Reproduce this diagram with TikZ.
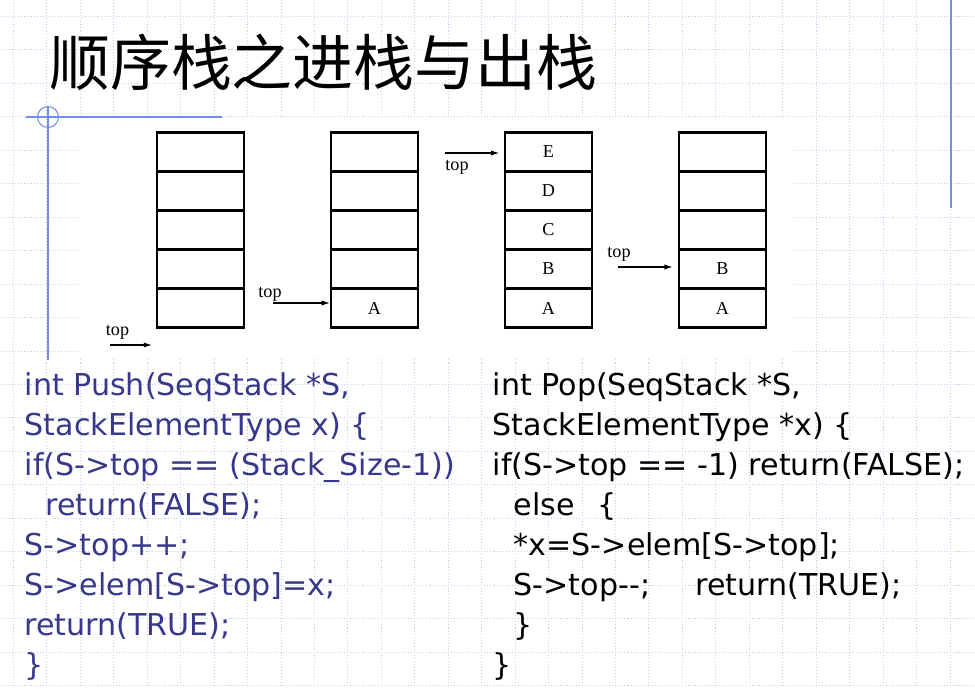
\documentclass[tikz,border=0pt]{standalone}
\usepackage{fontspec}
\usetikzlibrary{arrows.meta}
\newfontfamily\cjk{Noto Sans CJK SC}
\newfontfamily\codefont{DejaVu Sans}
\newfontfamily\figfont{Liberation Serif}
\definecolor{gridblue}{RGB}{198,207,240}
\definecolor{lineblue}{RGB}{115,140,235}
\definecolor{codeblue}{RGB}{55,55,140}

\tikzset{
  gridline/.style={gridblue,line width=0.8pt,dash pattern=on 0.9pt off 1.7pt},
  cell/.style={draw,line width=1.8pt,minimum width=26.1mm,minimum height=11.7mm,inner sep=0pt},
  lab/.style={inner sep=0pt,font=\figfont\fontsize{15.5}{17}\selectfont},
  ptr/.style={line width=1pt,-{Latex[length=7pt,width=4.5pt]}},
  code/.style={anchor=base west,inner sep=0pt,font=\codefont\fontsize{25.7}{30}\selectfont}
}

\begin{document}
\begin{tikzpicture}[x=0.3mm,y=-0.3mm]
    \useasboundingbox[fill=white] (0,0) rectangle (975,688);

    % background grid
    \foreach \k in {0,...,28}
      \draw[gridline] (13.4+33.45*\k,0) -- (13.4+33.45*\k,688);
    \foreach \k in {0,...,20}
      \draw[gridline] (0,16.5+33.45*\k) -- (975,16.5+33.45*\k);

    % picture area
    \fill[white] (78,119) rectangle (793,357);

    % slide marks
    \draw[lineblue,line width=0.9pt] (26,117) -- (222,117);
    \draw[lineblue,line width=0.9pt] (48,107) -- (48,360);
    \draw[lineblue,line width=0.9pt] (48,117) circle[radius=10.5];
    \draw[lineblue,line width=1.3pt] (951,0) -- (951,208);

    \node[anchor=base west,inner sep=0pt,font=\cjk\fontsize{52}{60}\selectfont] (title) at (49,85) {顺序栈之进栈与出栈};

    % stacks
    \foreach \s/\x in {1/157,2/331,3/505,4/679}
      \foreach \c in {1,...,5}
        \node[cell] (s\s c\c) at (\x+43.5,113+39*\c) {};

    \node[lab] (a2) at (s2c5) {A};
    \node[lab] (e3) at (s3c1) {E};
    \node[lab] (d3) at (s3c2) {D};
    \node[lab] (c3) at (s3c3) {C};
    \node[lab] (b3) at (s3c4) {B};
    \node[lab] (a3) at (s3c5) {A};
    \node[lab] (b4) at (s4c4) {B};
    \node[lab] (a4) at (s4c5) {A};

    % top pointers
    \node[lab] (top1) at (117.5,332) {top};
    \coordinate (t1) at (110,345);
    \coordinate (h1) at (152,345);
    \draw[ptr] (t1) -- (h1);

    \node[lab] (top2) at (270,294) {top};
    \coordinate (t2) at (273,303);
    \draw[ptr] (t2) -- (t2 -| s2c5.west);

    \node[lab] (top3) at (457,167) {top};
    \coordinate (t3) at (445,153);
    \draw[ptr,shorten >=4pt] (t3) -- (t3 -| s3c1.west);

    \node[lab] (top4) at (619,254) {top};
    \coordinate (t4) at (618,267);
    \draw[ptr,shorten >=4.5pt] (t4) -- (t4 -| s4c4.west);

    % push
    \node[code,codeblue] (push1) at (24.5,395) {int Push(SeqStack *S,};
    \node[code,codeblue] (push2) at (24.5,435) {StackElementType x) \{};
    \node[code,codeblue] (push3) at (24.5,475) {if(S->top == (Stack\_Size-1))};
    \node[code,codeblue] (push4) at (45.5,515) {return(FALSE);};
    \node[code,codeblue] (push5) at (24.5,555) {S->top++;};
    \node[code,codeblue] (push6) at (24.5,595) {S->elem[S->top]=x;};
    \node[code,codeblue] (push7) at (24.5,635) {return(TRUE);};
    \node[code,codeblue] (push8) at (24.5,675) {\}};

    % pop
    \node[code] (pop1) at (492.5,395) {int Pop(SeqStack *S,};
    \node[code] (pop2) at (492.5,435) {StackElementType *x) \{};
    \node[code] (pop3) at (492.5,475) {if(S->top == -1) return(FALSE);};
    \node[code] (pop4) at (513.5,515) {else\hspace{0.75em}\{};
    \node[code] (pop5) at (513.5,555) {*x=S->elem[S->top];};
    \node[code] (pop6) at (513.5,595) {S->top-{}-;\hspace{1.5em}return(TRUE);};
    \node[code] (pop7) at (513.5,635) {\}};
    \node[code] (pop8) at (492.5,675) {\}};
\end{tikzpicture}
\end{document}
